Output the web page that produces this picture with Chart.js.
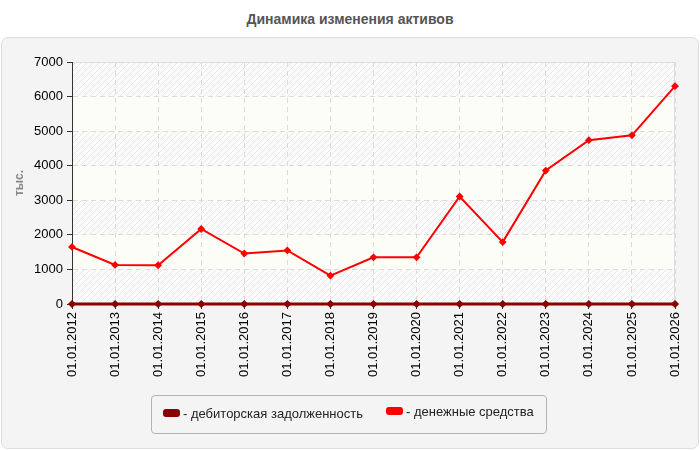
<!DOCTYPE html>
<html>
<head>
<meta charset="utf-8">
<script src="https://cdn.jsdelivr.net/npm/chart.js@4"></script>
<style>
  body { margin: 0; background: #fff; font-family: "Liberation Sans", Arial, sans-serif; }
  #wrap { position: relative; width: 700px; height: 450px; overflow: hidden; }
  #title { position: absolute; top: 11px; left: 0; width: 700px; text-align: center;
    font: bold 14px "Liberation Sans", Arial, sans-serif; color: #555; }
  #panel { position: absolute; top: 37px; left: 1px; width: 696px; height: 410px;
    background: #f4f4f4; border: 1px solid #dedede; border-radius: 7px; }
  #myChart { position: absolute; top: 0; left: 0; }
  #legend { position: absolute; left: 151px; top: 395px; width: 394px; height: 37px;
    border: 1px solid #b4b4b4; border-radius: 4px; }
  .item { position: absolute; font-size: 13px; color: #222; white-space: nowrap; }
  .mark { display: inline-block; width: 17px; height: 8px; border-radius: 3px; margin-right: 3px; vertical-align: 1px; }
</style>
</head>
<body>
<div id="wrap">
  <div id="title">Динамика изменения активов</div>
  <div id="panel"></div>
  <canvas id="myChart" width="700" height="450"></canvas>
  <div id="legend"></div>
</div>
<script>
const years = ['01.01.2012', '01.01.2013', '01.01.2014', '01.01.2015', '01.01.2016',
  '01.01.2017', '01.01.2018', '01.01.2019', '01.01.2020', '01.01.2021',
  '01.01.2022', '01.01.2023', '01.01.2024', '01.01.2025', '01.01.2026'];
const receivables = [0, 0, 0, 0, 0, 0, 0, 0, 0, 0, 0, 0, 0, 0, 0];
const cash = [1650, 1130, 1120, 2170, 1460, 1550, 820, 1350, 1350, 3110, 1790, 3860, 4740, 4880, 6300];
const seriesNames = ['дебиторская задолженность', 'денежные средства'];
const seriesColors = ['#8b0000', '#ff0000'];
const yTicks = [0, 1000, 2000, 3000, 4000, 5000, 6000, 7000];

// легенда в рамке
const legendPos = [[11, 10], [234, 8]];
const legendEl = document.getElementById('legend');
seriesNames.forEach((name, i) => {
  const d = document.createElement('div');
  d.className = 'item';
  d.style.left = legendPos[i][0] + 'px';
  d.style.top = legendPos[i][1] + 'px';
  d.innerHTML = '<span class="mark" style="background:' + seriesColors[i] + '"></span>- ' + name;
  legendEl.appendChild(d);
});

// штриховка фона
const pc = document.createElement('canvas');
pc.width = 6; pc.height = 6;
const p = pc.getContext('2d');
p.fillStyle = '#fbfbfb';
p.fillRect(0, 0, 6, 6);
p.strokeStyle = '#e8e8e8';
p.lineWidth = 1;
p.beginPath();
p.moveTo(0, 6); p.lineTo(6, 0);
p.moveTo(-3, 3); p.lineTo(3, -3);
p.moveTo(3, 9); p.lineTo(9, 3);
p.stroke();

const bands = {
  id: 'bands',
  beforeDraw(chart) {
    const { ctx, chartArea: a, scales: { y } } = chart;
    const hatch = ctx.createPattern(pc, 'repeat');
    ctx.save();
    for (let i = 0; i < yTicks.length - 1; i++) {
      const top = y.getPixelForValue(yTicks[i + 1]);
      const bot = y.getPixelForValue(yTicks[i]);
      ctx.fillStyle = i % 2 === 0 ? hatch : '#fdfdf7';
      ctx.fillRect(a.left, top, a.right - a.left, bot - top);
    }
    ctx.strokeStyle = '#dddddd';
    ctx.lineWidth = 1;
    ctx.beginPath();
    ctx.moveTo(a.left, a.top + 0.5);
    ctx.lineTo(a.right - 0.5, a.top + 0.5);
    ctx.lineTo(a.right - 0.5, a.bottom);
    ctx.stroke();
    ctx.restore();
  }
};

var ctx = document.getElementById('myChart').getContext('2d');
var myChart = new Chart(ctx, {
  type: 'line',
  data: {
    labels: years,
    datasets: [
      {
        label: seriesNames[0],
        data: receivables,
        borderColor: seriesColors[0],
        backgroundColor: seriesColors[0],
        borderWidth: 3,
        pointStyle: 'rectRot',
        pointRadius: 2,
        tension: 0,
        clip: 5,
      },
      {
        label: seriesNames[1],
        data: cash,
        borderColor: seriesColors[1],
        backgroundColor: seriesColors[1],
        borderWidth: 2,
        pointStyle: 'rectRot',
        pointRadius: 2.5,
        tension: 0,
        clip: 5,
      },
    ],
  },
  options: {
    responsive: false,
    animation: false,
    layout: { padding: { top: 62, left: 0, right: 25, bottom: 46 } },
    plugins: { legend: { display: false }, title: { display: false }, tooltip: { enabled: false } },
    scales: {
      x: {
        offset: false,
        grid: { color: '#dcdcdc', tickColor: '#333', tickLength: 5, tickBorderDash: [] },
        border: { color: '#333', width: 1, dash: [5, 4] },
        ticks: { color: '#000', font: { family: 'Liberation Sans', size: 13 }, maxRotation: 90, minRotation: 90, padding: 3 },
        afterFit(s) { s.height = 100; },
      },
      y: {
        min: 0,
        max: 7000,
        ticks: {
          stepSize: 1000, color: '#000', font: { family: 'Liberation Sans', size: 13 }, padding: 4,
          callback: (v) => String(v),
        },
        grid: { color: '#dcdcdc', tickColor: '#333', tickLength: 5, tickBorderDash: [] },
        border: { color: '#333', width: 1, dash: [5, 4] },
        title: { display: true, text: 'тыс.', color: '#888', font: { family: 'Liberation Sans', size: 12, weight: 'bold' }, padding: { top: 12, bottom: 0 } },
        afterFit(s) { s.width = 72; },
      },
    },
  },
  plugins: [bands],
});
</script>
</body>
</html>
